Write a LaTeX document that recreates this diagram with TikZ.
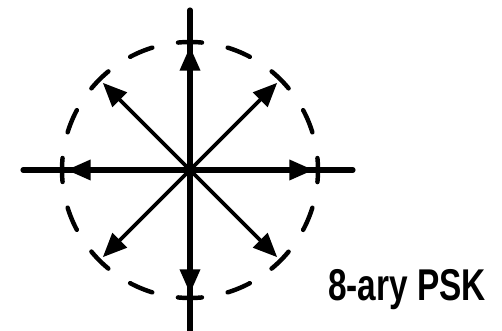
\documentclass[tikz,border=0pt]{standalone}
\usepackage{fontspec}
\setmainfont{Liberation Sans}
\usetikzlibrary{arrows.meta}

\begin{document}
\begin{tikzpicture}[line cap=round]
  \tikzset{
    axis/.style={line width=4.4pt},
    vec/.style={line width=3.2pt, -{Triangle[length=0.72cm, width=0.6cm]}},
    ring/.style={line width=3.8pt, dash pattern=on 0.72cm off 0.788cm, dash phase=0.36cm},
  }
  \useasboundingbox (0,0) rectangle (15.06,9.93);

  % Mittelpunkt und Achsenenden
  \coordinate (O) at (5.7,4.83);
  \coordinate (xl) at (0.69,4.83);
  \coordinate (xr) at (10.59,4.83);
  \coordinate (yt) at (5.7,9.63);
  \coordinate (yb) at (5.7,0);

  % Achsen
  \draw[axis] (xl) -- (xr);
  \draw[axis] (yt) -- (yb);

  % Kreis (gestrichelt)
  \draw[ring] (O) circle (3.84);

  % Signalpunkte
  \foreach \a in {0,45,...,315} {
    \path (O) ++(\a:3.7) coordinate (p\a);
    \draw[vec] (O) -- (p\a);
  }

  \node[anchor=base west, inner sep=0, font=\bfseries\fontsize{38}{38}\selectfont, xscale=0.75] (lbl) at (9.84,0.9) {8-ary PSK};
\end{tikzpicture}
\end{document}
